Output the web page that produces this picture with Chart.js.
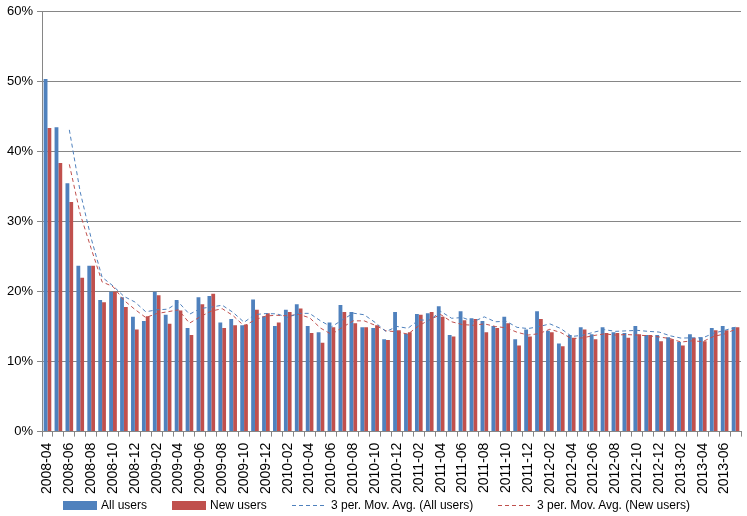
<!DOCTYPE html>
<html>
<head>
<meta charset="utf-8">
<script src="https://cdn.jsdelivr.net/npm/chart.js@4/dist/chart.umd.min.js"></script>
<style>
  html, body { margin: 0; padding: 0; background: #fff; }
  #wrap { position: relative; width: 747px; height: 516px; }
  #legend { position: absolute; left: 0; top: 497px; width: 747px; height: 16px;
            font: 12px "Liberation Sans", Arial, sans-serif; color: #000; }
  #legend .item { position: absolute; top: 0; height: 16px; display: flex; align-items: center; white-space: nowrap; }
  #legend .box { width: 34px; height: 9px; margin-right: 4px; }
  #legend .dash { width: 34px; height: 1px; margin-right: 5px; }
</style>
</head>
<body>
<div id="wrap">
  <canvas id="chart" width="747" height="516"></canvas>
  <div id="legend"></div>
</div>
<script>
// months, one bar pair per month
const months = [
  '2008-04','2008-05','2008-06','2008-07','2008-08','2008-09','2008-10','2008-11','2008-12',
  '2009-01','2009-02','2009-03','2009-04','2009-05','2009-06','2009-07','2009-08','2009-09','2009-10','2009-11','2009-12',
  '2010-01','2010-02','2010-03','2010-04','2010-05','2010-06','2010-07','2010-08','2010-09','2010-10','2010-11','2010-12',
  '2011-01','2011-02','2011-03','2011-04','2011-05','2011-06','2011-07','2011-08','2011-09','2011-10','2011-11','2011-12',
  '2012-01','2012-02','2012-03','2012-04','2012-05','2012-06','2012-07','2012-08','2012-09','2012-10','2012-11','2012-12',
  '2013-01','2013-02','2013-03','2013-04','2013-05','2013-06','2013-07'
];

// percentages
const allUsers = [
  50.4, 43.5, 35.5, 23.7, 23.7, 18.8, 20.0, 19.2, 16.4,
  15.8, 20.0, 16.7, 18.8, 14.8, 19.2, 19.4, 15.6, 16.1, 15.2, 18.9, 16.5,
  15.1, 17.4, 18.2, 15.1, 14.2, 15.6, 18.1, 17.1, 14.9, 14.8, 13.2, 17.1,
  14.0, 16.8, 16.9, 17.9, 13.8, 17.2, 16.2, 15.8, 15.1, 16.4, 13.2, 14.6,
  17.2, 14.4, 12.6, 13.8, 14.9, 13.9, 14.9, 14.2, 14.1, 15.1, 13.8, 13.8,
  13.5, 12.8, 13.9, 13.5, 14.8, 15.1, 14.9
];
const newUsers = [
  43.4, 38.4, 32.8, 22.0, 23.7, 18.5, 20.0, 17.8, 14.6,
  16.5, 19.5, 15.4, 17.3, 13.8, 18.2, 19.7, 14.8, 15.2, 15.3, 17.4, 16.9,
  15.6, 17.1, 17.6, 14.1, 12.7, 14.9, 17.1, 15.5, 14.9, 15.2, 13.1, 14.5,
  14.2, 16.7, 17.1, 16.4, 13.6, 15.9, 16.1, 14.2, 14.8, 15.5, 12.3, 13.6,
  16.1, 14.2, 12.2, 13.4, 14.6, 13.2, 14.1, 14.1, 13.4, 13.9, 13.8, 12.9,
  13.2, 12.3, 13.4, 12.9, 14.5, 14.5, 14.9
];

// 3 period moving average trend lines
const allUsersAvg = [
  null, null, 43.13, 34.23, 27.63, 22.07, 20.83, 19.33, 18.53,
  17.13, 17.40, 17.50, 18.50, 16.77, 17.60, 17.80, 18.07, 17.03, 15.63, 16.73, 16.87,
  16.83, 16.33, 16.90, 16.90, 15.83, 14.97, 15.97, 16.93, 16.70, 15.60, 14.30, 15.03,
  14.77, 15.97, 15.90, 17.20, 16.20, 16.30, 15.73, 16.40, 15.70, 15.77, 14.90, 14.73,
  15.00, 15.40, 14.73, 13.60, 13.77, 14.20, 14.57, 14.33, 14.40, 14.47, 14.33, 14.23,
  13.70, 13.37, 13.40, 13.40, 14.07, 14.47, 14.93
];
const newUsersAvg = [
  null, null, 38.20, 31.07, 26.17, 21.40, 20.73, 18.77, 17.47,
  16.30, 16.87, 17.13, 17.40, 15.50, 16.43, 17.23, 17.57, 16.57, 15.10, 15.97, 16.53,
  16.63, 16.53, 16.77, 16.27, 14.80, 13.90, 14.90, 15.83, 15.83, 15.20, 14.40, 14.27,
  13.93, 15.13, 16.00, 16.73, 15.70, 15.30, 15.20, 15.40, 15.03, 14.83, 14.20, 13.80,
  14.00, 14.63, 14.17, 13.27, 13.40, 13.73, 13.97, 13.80, 13.87, 13.80, 13.70, 13.53,
  13.30, 12.80, 12.97, 12.87, 13.60, 13.97, 14.63
];

const yTicks = [0, 10, 20, 30, 40, 50, 60];

const gridGrey = '#868686';
const fontFam = '"Liberation Sans", Arial, sans-serif';

const chart = new Chart(document.getElementById('chart'), {
    type: 'bar',
    data: {
        labels: months,
        datasets: [
            { label: 'All users', data: allUsers, backgroundColor: '#4F81BD', borderWidth: 0,
              categoryPercentage: 0.7, barPercentage: 1.0, order: 2 },
            { label: 'New users', data: newUsers, backgroundColor: '#C0504D', borderWidth: 0,
              categoryPercentage: 0.7, barPercentage: 1.0, order: 2 },
            { type: 'line', label: '3 per. Mov. Avg. (All users)', data: allUsersAvg,
              borderColor: '#4F81BD', backgroundColor: '#4F81BD', borderWidth: 1, borderDash: [4, 3],
              pointRadius: 0, tension: 0, fill: false, order: 1 },
            { type: 'line', label: '3 per. Mov. Avg. (New users)', data: newUsersAvg,
              borderColor: '#C0504D', backgroundColor: '#C0504D', borderWidth: 1, borderDash: [4, 3],
              pointRadius: 0, tension: 0, fill: false, order: 1 }
        ]
    },
    options: {
        responsive: false,
        animation: false,
        layout: { padding: { top: 10, right: 6, left: 3, bottom: 16 } },
        scales: {
            x: {
                offset: true,
                // the rotated last label would otherwise reserve extra room on the right
                afterFit: axis => { axis.paddingRight = 0; },
                grid: { display: true, drawOnChartArea: false, drawTicks: true, tickLength: 5, color: gridGrey, offset: true },
                border: { display: true, color: gridGrey },
                ticks: {
                    autoSkip: false, minRotation: 90, maxRotation: 90, padding: 6,
                    color: '#000', font: { family: fontFam, size: 14 },
                    callback: function (v, i) { return i % 2 === 0 ? months[i] : ''; }
                }
            },
            y: {
                min: 0, max: 60,
                afterBuildTicks: function (axis) { axis.ticks = yTicks.map(v => ({ value: v })); },
                grid: { color: gridGrey, tickLength: 5 },
                border: { display: true, color: gridGrey },
                ticks: {
                    padding: 4, color: '#000', font: { family: fontFam, size: 13 },
                    callback: v => v + '%'
                }
            }
        },
        plugins: {
            legend: { display: false },
            tooltip: { enabled: false }
        }
    }
});

// legend under the axis labels, same look as the spreadsheet one
const legendLeft = [63, 172, 292, 498];
const legendEl = document.getElementById('legend');
chart.data.datasets.forEach((ds, i) => {
    const item = document.createElement('div');
    item.className = 'item';
    item.style.left = legendLeft[i] + 'px';
    const sw = document.createElement('span');
    if (ds.type === 'line') {
        sw.className = 'dash';
        sw.style.background = 'repeating-linear-gradient(to right, ' + ds.borderColor + ' 0 4px, transparent 4px 7px)';
    } else {
        sw.className = 'box';
        sw.style.background = ds.backgroundColor;
    }
    const txt = document.createElement('span');
    txt.textContent = ds.label;
    item.appendChild(sw);
    item.appendChild(txt);
    legendEl.appendChild(item);
});
</script>
</body>
</html>
